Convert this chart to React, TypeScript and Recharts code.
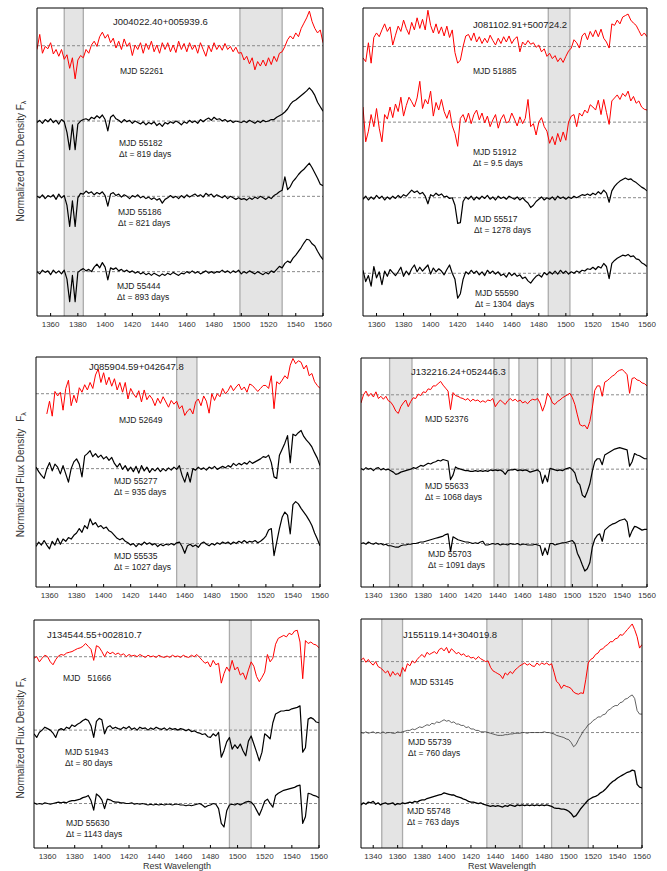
import { Line, LineChart, ReferenceArea, ReferenceLine, XAxis, YAxis } from "recharts";

const FONT = '"Liberation Sans", Arial, Helvetica, sans-serif';
const RED = "#ff0000";
const INK = "#000000";

// rest-frame wavelength grids (Angstrom)
const wave1350 = [
  1350, 1352, 1354, 1356, 1358, 1360, 1362, 1364, 1366, 1368,
  1370, 1372, 1374, 1376, 1378, 1380, 1382, 1384, 1386, 1388,
  1390, 1392, 1394, 1396, 1398, 1400, 1402, 1404, 1406, 1408,
  1410, 1412, 1414, 1416, 1418, 1420, 1422, 1424, 1426, 1428,
  1430, 1432, 1434, 1436, 1438, 1440, 1442, 1444, 1446, 1448,
  1450, 1452, 1454, 1456, 1458, 1460, 1462, 1464, 1466, 1468,
  1470, 1472, 1474, 1476, 1478, 1480, 1482, 1484, 1486, 1488,
  1490, 1492, 1494, 1496, 1498, 1500, 1502, 1504, 1506, 1508,
  1510, 1512, 1514, 1516, 1518, 1520, 1522, 1524, 1526, 1528,
  1530, 1532, 1534, 1536, 1538, 1540, 1542, 1544, 1546, 1548,
  1550, 1552, 1554, 1556, 1558, 1560,
];
const wave1330 = [
  1330, 1332, 1334, 1336, 1338, 1340, 1342, 1344, 1346, 1348,
  ...wave1350,
];

const ticks1350 = [1360, 1380, 1400, 1420, 1440, 1460, 1480, 1500, 1520, 1540, 1560];
const ticks1330 = [1340, ...ticks1350];

// J004022.40+005939.6
const j0040_52261 = [
  0.95, 1.15, 0.90, 0.99, 0.96, 1.04, 0.89, 0.95, 0.86, 0.95,
  0.82, 0.88, 0.70, 0.84, 0.56, 0.81, 0.87, 0.84, 0.95, 0.90,
  1.01, 1.06, 0.99, 1.12, 1.18, 1.10, 1.15, 1.04, 1.10, 0.97,
  1.06, 0.95, 1.09, 0.99, 1.04, 0.87, 1.01, 0.95, 1.04, 0.90,
  1.03, 0.95, 1.06, 0.92, 1.01, 0.90, 1.04, 0.95, 1.04, 0.92,
  1.01, 0.91, 1.06, 0.95, 1.03, 0.92, 1.04, 0.95, 1.01, 0.90,
  1.04, 0.95, 0.86, 1.00, 0.92, 1.04, 0.95, 1.01, 0.94, 1.03,
  0.95, 0.99, 0.92, 0.98, 0.90, 0.91, 0.81, 0.86, 0.76, 0.84,
  0.68, 0.79, 0.73, 0.81, 0.73, 0.84, 0.75, 0.86, 0.79, 0.90,
  0.92, 0.99, 1.08, 1.13, 1.09, 1.17, 1.12, 1.23, 1.30, 1.37,
  1.46, 1.32, 1.23, 1.17, 1.21, 1.04,
];
const j0040_55182 = [
  0.98, 1.01, 0.97, 1.02, 0.99, 1.03, 0.98, 1.01, 0.96, 1.02,
  0.99, 0.85, 0.62, 0.95, 0.62, 0.96, 1.00, 1.02, 1.03, 1.01,
  1.05, 1.03, 1.07, 1.04, 1.08, 1.02, 0.87, 1.05, 1.08, 1.03,
  1.01, 0.98, 1.02, 0.99, 1.01, 0.97, 1.00, 0.98, 0.96, 0.99,
  0.95, 0.98, 0.96, 0.99, 0.94, 0.97, 0.93, 0.98, 0.96, 0.99,
  0.97, 1.00, 0.98, 0.95, 0.99, 0.97, 1.01, 0.98, 1.00, 0.97,
  1.02, 0.99, 1.02, 1.04, 1.01, 1.05, 1.02, 1.03, 1.00, 1.02,
  0.99, 1.01, 0.98, 1.00, 0.99, 0.98, 1.00, 0.98, 1.01, 0.99,
  0.97, 1.00, 0.98, 1.01, 0.99, 1.00, 1.02, 1.02, 1.05, 1.07,
  1.09, 1.12, 1.16, 1.22, 1.26, 1.28, 1.31, 1.34, 1.37, 1.40,
  1.44, 1.40, 1.34, 1.25, 1.19, 1.13,
];
const j0040_55186 = [
  1.00, 0.98, 1.02, 0.97, 1.01, 0.99, 1.02, 0.96, 1.03, 0.98,
  1.01, 0.88, 0.60, 0.94, 0.60, 0.98, 1.04, 1.03, 1.07, 1.04,
  1.06, 1.02, 1.05, 1.03, 1.06, 1.01, 0.87, 1.03, 1.05, 1.01,
  1.03, 0.99, 1.02, 1.00, 0.97, 1.01, 0.99, 1.02, 0.98, 1.00,
  0.97, 0.99, 0.96, 0.98, 0.95, 0.97, 0.91, 0.96, 0.98, 1.01,
  0.98, 1.00, 0.97, 1.01, 0.98, 1.02, 0.99, 1.01, 1.03, 1.00,
  1.02, 0.99, 1.04, 1.01, 1.03, 0.99, 1.02, 1.00, 0.98, 1.01,
  0.97, 1.00, 0.98, 0.96, 0.98, 0.96, 0.97, 0.95, 0.98, 0.96,
  0.99, 0.97, 1.00, 0.98, 0.96, 0.99, 0.97, 1.01, 1.03, 1.06,
  1.08, 1.26, 1.09, 1.13, 1.20, 1.24, 1.29, 1.33, 1.36, 1.40,
  1.44, 1.38, 1.31, 1.24, 1.16, 1.14,
];
const j0040_55444 = [
  1.00, 0.97, 1.02, 0.99, 1.01, 0.96, 1.02, 0.98, 1.01, 0.97,
  1.02, 0.90, 0.60, 0.95, 0.60, 0.99, 1.02, 1.04, 1.01, 1.03,
  1.00, 1.06, 1.10, 1.05, 1.12, 1.06, 0.89, 1.05, 1.03, 1.05,
  1.01, 1.03, 1.00, 1.02, 0.99, 1.01, 0.98, 1.00, 0.97, 0.99,
  0.96, 0.98, 0.95, 0.98, 0.96, 0.94, 0.97, 0.95, 0.98, 0.96,
  0.99, 0.97, 0.95, 0.98, 0.97, 1.00, 0.98, 1.01, 0.98, 1.00,
  0.97, 0.99, 1.01, 0.98, 1.00, 0.98, 1.00, 0.99, 1.02, 0.99,
  1.01, 0.98, 1.01, 0.99, 1.02, 0.97, 1.00, 0.98, 1.01, 0.99,
  0.97, 1.00, 0.98, 0.96, 0.99, 0.97, 1.01, 0.99, 1.03, 1.07,
  1.05, 1.11, 1.14, 1.12, 1.18, 1.22, 1.27, 1.32, 1.38, 1.43,
  1.42, 1.37, 1.34, 1.27, 1.21, 1.16,
];
const j0040Bands = [[1370, 1384], [1499, 1530]];

// J081102.91+500724.2
const j0811_51885 = [
  0.85, 0.80, 1.05, 0.78, 1.12, 1.18, 1.13, 1.22, 1.30, 1.20,
  1.26, 1.02, 1.15, 1.27, 1.20, 1.35, 1.24, 1.16, 1.32, 1.22,
  1.38, 1.24, 1.36, 1.22, 1.48, 1.28, 1.18, 1.30, 1.17, 1.26,
  1.14, 1.27, 1.12, 1.22, 0.92, 0.78, 0.82, 1.00, 1.14, 1.16,
  1.08, 1.18, 1.06, 1.13, 1.04, 1.11, 1.05, 1.15, 1.08, 1.02,
  1.11, 1.04, 1.13, 1.06, 1.14, 1.04, 1.10, 1.13, 0.93, 1.06,
  1.02, 1.08, 1.03, 1.05, 0.99, 1.02, 0.93, 0.97, 0.87, 0.91,
  0.84, 0.88, 0.80, 0.85, 0.79, 0.87, 0.94, 0.98, 1.09, 1.05,
  0.98, 1.14, 1.18, 1.09, 1.20, 1.13, 1.22, 1.13, 1.23, 1.11,
  1.06, 0.98, 1.30, 1.28, 1.35, 1.30, 1.39, 1.41, 1.43, 1.35,
  1.31, 1.28, 1.21, 1.14, 1.18, 1.13,
];
const j0811_51912 = [
  1.20, 0.74, 0.88, 1.10, 0.94, 1.18, 0.92, 0.74, 1.10, 1.04,
  1.20, 1.06, 1.24, 1.14, 1.33, 1.08, 1.22, 1.33, 1.27, 1.20,
  1.32, 1.54, 1.18, 1.30, 1.24, 1.41, 1.08, 1.26, 1.16, 1.30,
  1.14, 1.05, 1.16, 0.95, 0.85, 0.68, 1.05, 1.10, 1.00, 1.12,
  0.98, 1.10, 1.16, 1.03, 1.12, 0.99, 1.08, 0.94, 1.03, 1.10,
  0.92, 1.04, 1.10, 0.99, 1.01, 1.12, 1.04, 0.95, 1.07, 0.98,
  1.05, 1.30, 0.94, 0.98, 0.83, 1.00, 1.06, 0.94, 0.88, 0.72,
  0.81, 0.70, 0.85, 0.74, 0.87, 0.76, 1.00, 1.08, 1.10, 0.94,
  1.12, 1.08, 1.16, 1.12, 1.23, 1.20, 1.16, 1.29, 1.10, 1.30,
  1.13, 0.97, 1.28, 1.32, 1.36, 1.30, 1.38, 1.34, 1.41, 1.28,
  1.34, 1.25, 1.28, 1.20, 1.17, 1.16,
];
const j0811_55517 = [
  0.98, 1.02, 0.97, 1.01, 0.98, 1.03, 0.99, 1.02, 0.97, 1.01,
  0.98, 1.02, 0.99, 1.03, 1.00, 1.04, 1.02, 1.06, 1.10, 1.07,
  1.09, 1.05, 1.07, 1.02, 0.92, 1.04, 1.02, 1.06, 1.03, 1.05,
  1.01, 1.02, 0.99, 1.00, 0.90, 0.66, 0.67, 0.95, 1.01, 0.98,
  1.02, 0.97, 1.01, 0.98, 1.02, 0.99, 1.03, 0.98, 1.01, 0.97,
  1.02, 0.99, 1.01, 0.98, 1.02, 1.00, 0.98, 1.01, 0.97, 1.00,
  0.96, 0.93, 0.87, 0.90, 0.95, 0.98, 1.01, 0.97, 1.00, 0.98,
  1.01, 0.97, 1.02, 0.99, 1.01, 0.98, 1.01, 0.99, 1.02, 1.00,
  1.02, 1.04, 1.03, 1.05, 1.03, 1.06, 1.04, 1.08, 1.05, 1.10,
  1.06, 0.94, 1.09, 1.15, 1.19, 1.22, 1.24, 1.26, 1.24, 1.25,
  1.22, 1.20, 1.17, 1.14, 1.12, 1.09,
];
const j0811_55590 = [
  1.04, 0.89, 0.97, 0.83, 1.09, 0.94, 1.02, 0.85, 1.03, 0.96,
  1.05, 1.01, 0.97, 1.02, 1.08, 0.96, 1.03, 0.98, 1.06, 1.11,
  1.02, 1.08, 1.03, 1.07, 1.11, 0.99, 1.07, 1.02, 1.06, 1.03,
  0.98, 1.05, 1.11, 1.00, 0.92, 0.67, 0.73, 0.92, 1.02, 0.99,
  1.04, 1.00, 1.03, 0.98, 1.02, 0.97, 1.04, 1.00, 1.03, 0.99,
  1.02, 0.97, 0.99, 0.95, 1.01, 0.97, 1.00, 0.96, 0.98, 0.93,
  0.95, 0.90, 0.87, 0.92, 0.96, 0.98, 0.95, 1.01, 0.98, 1.02,
  0.99, 1.03, 0.99, 1.04, 1.00, 1.03, 0.99, 1.02, 1.00, 1.03,
  1.01, 1.04, 1.03, 1.06, 1.05, 1.08, 1.05, 1.09, 1.07, 1.13,
  1.09, 0.93, 1.13, 1.17, 1.20, 1.22, 1.24, 1.23, 1.25, 1.22,
  1.23, 1.19, 1.18, 1.14, 1.12, 1.09,
];
const j0811Bands = [[1487, 1503]];

// J085904.59+042647.8
const j0859_52649 = [
  null, null, null, null, 0.73, 0.90, 0.70, 1.03, 0.97, 1.02,
  0.78, 1.07, 1.18, 0.84, 0.98, 0.88, 1.08, 1.02, 1.12, 1.05,
  1.15, 1.07, 1.25, 1.33, 1.15, 1.28, 1.12, 1.22, 1.10, 1.20,
  1.05, 1.15, 1.02, 1.15, 0.93, 1.07, 1.00, 0.95, 1.04, 0.89,
  1.05, 0.92, 0.98, 0.93, 0.84, 0.94, 0.87, 0.96, 0.89, 0.82,
  0.91, 0.86, 0.90, 0.80, 0.84, 0.71, 0.77, 0.80, 0.73, 0.89,
  0.93, 0.84, 0.97, 0.90, 0.74, 1.00, 0.91, 1.00, 0.96, 1.07,
  1.00, 1.04, 1.11, 1.04, 1.09, 1.13, 1.05, 1.09, 1.02, 1.13,
  1.11, 1.07, 1.03, 1.07, 1.11, 1.11, 1.07, 1.24, 0.80, 1.16,
  1.13, 1.18, 1.24, 1.20, 1.38, 1.47, 1.40, 1.44, 1.42, 1.33,
  1.38, 1.24, 1.27, 1.16, 1.11, 1.07,
];
const j0859_55277 = [
  1.02, 0.96, 0.91, 0.87, 1.00, 1.08, 0.97, 1.06, 1.02, 0.93,
  1.04, 0.93, 0.82, 1.00, 1.09, 1.13, 1.06, 0.89, 1.17, 1.20,
  1.24, 1.16, 1.20, 1.15, 1.18, 1.13, 1.16, 1.11, 1.15, 1.07,
  1.02, 1.07, 0.99, 1.04, 0.97, 1.02, 0.96, 1.03, 0.94, 1.04,
  0.97, 1.02, 0.95, 1.00, 0.97, 1.01, 0.96, 1.00, 0.97, 1.01,
  0.98, 1.02, 0.99, 1.04, 0.91, 0.82, 0.95, 0.82, 1.00, 0.98,
  1.02, 0.99, 1.01, 0.98, 1.02, 1.00, 1.03, 0.99, 1.01, 1.03,
  1.01, 1.04, 1.02, 1.07, 1.04, 1.07, 1.05, 1.08, 1.06, 1.10,
  1.07, 1.09, 1.11, 1.13, 1.16, 1.15, 1.18, 1.08, 0.89, 0.87,
  1.18, 1.26, 1.34, 1.44, 1.08, 1.46, 1.44, 1.48, 1.51, 1.43,
  1.38, 1.34, 1.29, 1.21, 1.14, 1.04,
];
const j0859_55535 = [
  0.96, 1.02, 0.98, 1.04, 0.98, 0.93, 1.03, 0.98, 1.07, 0.99,
  1.06, 1.03, 1.08, 1.06, 1.11, 1.14, 1.20, 1.15, 1.24, 1.20,
  1.33, 1.25, 1.28, 1.22, 1.24, 1.20, 1.22, 1.17, 1.15, 1.11,
  1.07, 1.05, 1.07, 1.03, 1.01, 0.98, 1.00, 0.96, 1.00, 0.98,
  1.02, 0.99, 1.01, 0.98, 1.00, 0.96, 0.99, 0.97, 0.99, 0.98,
  1.00, 0.98, 1.01, 1.02, 0.96, 0.87, 0.97, 0.99, 0.96, 0.98,
  0.95, 1.00, 1.02, 0.99, 0.97, 1.00, 0.98, 1.01, 0.99, 1.02,
  1.00, 1.02, 0.99, 1.02, 1.00, 1.03, 1.01, 1.04, 1.01, 1.03,
  1.02, 1.04, 1.01, 1.03, 1.06, 1.10, 1.18, 1.20, 0.84, 1.02,
  1.20, 1.35, 1.42, 1.38, 1.13, 1.52, 1.56, 1.53, 1.47, 1.42,
  1.37, 1.31, 1.24, 1.14, 1.06, 0.97,
];
const j0859Bands = [[1454, 1469]];

// J132216.24+052446.3
const j1322_52376 = [
  0.89, 1.00, 1.05, 0.98, 1.02, 0.97, 1.04, 0.95, 0.98, 0.94,
  0.98, 0.92, 0.90, 0.85, 0.78, 0.75, 0.84, 0.89, 0.93, 0.84,
  0.91, 0.96, 0.95, 1.01, 0.99, 1.04, 1.03, 1.08, 1.07, 1.12,
  1.12, 1.15, 1.18, 1.13, 1.09, 1.05, 0.80, 1.03, 0.99, 0.98,
  0.96, 0.95, 0.93, 0.95, 0.91, 0.94, 0.92, 0.93, 0.90, 0.92,
  0.90, 0.93, 0.92, 0.95, 0.84, 0.89, 0.93, 0.90, 0.87, 0.92,
  0.95, 0.92, 0.94, 0.91, 0.93, 0.89, 0.91, 0.88, 0.92, 0.94,
  0.93, 0.95, 0.89, 0.78, 0.87, 1.02, 0.97, 0.89, 0.87, 0.91,
  0.93, 0.96, 0.98, 1.00, 1.02, 0.96, 0.87, 0.73, 0.60, 0.58,
  0.59, 0.54, 0.64, 0.82, 1.06, 1.12, 1.12, 0.98, 1.17, 1.19,
  1.22, 1.25, 1.27, 1.31, 1.33, 1.34, 1.31, 1.27, 1.02, 1.22,
  1.23, 1.20, 1.19, 1.16, 1.15, 1.12,
];
const j1322_55633 = [
  1.01, 0.99, 1.02, 1.00, 1.01, 0.98, 1.01, 1.02, 0.99, 1.01,
  0.99, 1.00, 0.98, 0.96, 0.93, 0.94, 0.96, 0.97, 0.98, 0.99,
  1.00, 1.02, 1.01, 1.03, 1.05, 1.04, 1.06, 1.08, 1.07, 1.09,
  1.10, 1.12, 1.11, 1.13, 1.12, 1.11, 0.86, 0.92, 1.03, 1.01,
  1.00, 0.99, 0.98, 0.98, 0.97, 0.97, 0.98, 0.97, 0.98, 0.97,
  0.98, 0.97, 0.99, 0.98, 0.99, 0.98, 0.99, 0.97, 0.93, 0.98,
  0.99, 0.99, 1.00, 0.98, 0.99, 0.98, 0.99, 0.98, 0.96, 0.97,
  0.98, 0.99, 0.96, 0.81, 0.92, 0.83, 1.01, 1.00, 0.99, 0.98,
  0.99, 0.98, 1.00, 1.01, 1.02, 0.99, 0.95, 0.83, 0.79, 0.65,
  0.62, 0.70, 0.80, 0.97, 1.10, 1.14, 1.14, 1.06, 1.19, 1.21,
  1.23, 1.25, 1.27, 1.28, 1.29, 1.28, 1.27, 1.26, 1.04, 1.10,
  1.21, 1.19, 1.18, 1.16, 1.14, 1.14,
];
const j1322_55703 = [
  1.00, 1.01, 0.99, 1.02, 1.00, 0.99, 1.01, 0.99, 1.00, 0.98,
  0.99, 0.97, 0.97, 0.96, 0.95, 0.95, 0.97, 0.98, 0.98, 0.99,
  0.99, 1.00, 1.00, 1.01, 1.02, 1.02, 1.03, 1.04, 1.05, 1.06,
  1.07, 1.08, 1.09, 1.10, 1.12, 1.13, 0.89, 1.09, 1.07, 1.05,
  1.04, 1.03, 1.02, 1.02, 1.01, 1.00, 1.01, 1.00, 1.02, 1.03,
  0.98, 0.98, 0.99, 1.00, 0.99, 1.00, 0.98, 0.99, 0.99, 0.98,
  1.00, 0.99, 0.99, 1.00, 0.98, 0.99, 0.99, 0.98, 0.98, 0.98,
  0.99, 0.98, 0.97, 0.84, 0.94, 0.85, 1.00, 1.00, 0.98, 0.99,
  1.00, 1.01, 1.01, 1.02, 1.03, 1.04, 1.00, 0.87, 0.80, 0.71,
  0.63, 0.66, 0.74, 0.95, 1.06, 1.11, 1.13, 1.03, 1.18, 1.21,
  1.24, 1.26, 1.27, 1.29, 1.31, 1.32, 1.33, 1.29, 1.09, 1.17,
  1.23, 1.22, 1.20, 1.18, 1.19, 1.19,
];
const j1322Bands = [[1353, 1371], [1437, 1449], [1457, 1472], [1483, 1494], [1499, 1516]];

// J134544.55+002810.7
const j1345_51666 = [
  0.98, 1.00, 0.93, 0.98, 1.02, 1.00, 0.93, 0.89, 0.96, 1.01,
  1.03, 1.02, 1.05, 1.06, 1.07, 1.09, 1.11, 1.12, 1.14, 1.18,
  1.14, 1.10, 0.95, 1.15, 1.13, 1.07, 1.00, 1.07, 1.04, 1.06,
  1.03, 1.05, 1.02, 1.04, 1.00, 1.03, 1.01, 1.02, 1.00, 1.03,
  1.01, 0.99, 1.02, 1.00, 1.01, 0.99, 1.02, 1.00, 0.99, 1.01,
  0.99, 1.02, 1.00, 1.01, 0.99, 1.02, 1.00, 0.99, 1.02, 1.00,
  1.03, 0.99, 0.95, 0.91, 0.93, 0.86, 0.95, 0.89, 0.91, 0.64,
  0.77, 0.86, 0.80, 0.95, 0.82, 0.86, 0.75, 0.78, 0.69, 0.82,
  0.93, 0.87, 0.73, 0.66, 0.72, 0.79, 1.03, 0.93, 0.98, 1.17,
  1.25, 1.27, 1.29, 1.27, 1.32, 1.30, 1.35, 1.36, 1.20, 0.70,
  1.22, 1.18, 1.20, 1.17, 1.16, 1.12,
];
const j1345_51943 = [
  0.95, 0.90, 0.97, 1.00, 1.04, 1.02, 1.00, 0.96, 0.90, 1.00,
  1.02, 1.00, 1.04, 1.02, 1.07, 1.05, 1.08, 1.10, 1.13, 1.15,
  1.13, 1.06, 0.90, 1.12, 1.16, 1.14, 0.95, 1.04, 1.06, 1.02,
  1.04, 1.02, 1.01, 1.04, 1.02, 1.05, 1.01, 1.03, 1.00, 1.04,
  1.02, 1.03, 1.00, 1.03, 1.01, 1.04, 1.02, 1.01, 1.03, 1.00,
  1.03, 1.01, 1.02, 1.00, 1.02, 1.01, 0.99, 1.01, 0.98, 0.99,
  0.97, 0.96, 0.94, 0.95, 0.91, 0.90, 0.95, 0.92, 0.97, 0.63,
  0.72, 0.84, 0.90, 0.74, 0.80, 0.75, 0.81, 0.72, 0.65, 0.85,
  0.92, 0.81, 0.70, 0.58, 0.70, 0.95, 0.92, 0.88, 1.10, 1.22,
  1.24, 1.26, 1.26, 1.27, 1.27, 1.29, 1.30, 1.31, 1.33, 0.70,
  0.76, 1.15, 1.17, 1.15, 1.11, 1.10,
];
const j1345_55630 = [
  1.01, 0.99, 1.00, 0.99, 1.01, 1.00, 0.99, 1.00, 1.01, 1.02,
  1.01, 1.02, 1.01, 1.03, 1.04, 1.04, 1.05, 1.06, 1.08, 1.09,
  1.11, 1.04, 0.91, 1.13, 1.10, 1.05, 0.93, 1.06, 1.05, 1.03,
  1.02, 1.02, 1.01, 1.01, 1.00, 1.00, 1.01, 0.99, 1.00, 0.99,
  1.00, 0.99, 0.98, 0.99, 0.98, 0.99, 0.98, 0.99, 0.98, 0.99,
  0.99, 0.98, 0.99, 0.99, 0.98, 0.98, 0.97, 0.98, 0.97, 0.98,
  0.99, 1.00, 0.98, 0.95, 0.97, 0.98, 1.00, 0.99, 0.93, 0.73,
  0.68, 0.90, 0.98, 0.99, 0.98, 1.00, 0.98, 1.00, 1.02, 1.03,
  1.02, 0.98, 0.91, 0.84, 0.93, 1.03, 1.06, 1.00, 0.95, 1.11,
  1.14, 1.16, 1.18, 1.19, 1.20, 1.21, 1.22, 1.24, 1.25, 0.73,
  0.82, 1.14, 1.13, 1.11, 1.10, 1.08,
];
const j1345Bands = [[1494, 1510]];

// J155119.14+304019.8
const j1551_53145 = [
  1.02, 1.05, 0.99, 1.03, 0.98, 0.95, 1.00, 0.93, 0.91, 0.88,
  0.84, 0.87, 0.79, 0.86, 0.81, 0.84, 0.79, 0.92, 0.86, 0.97,
  0.94, 1.01, 0.98, 1.03, 1.07, 1.10, 1.06, 1.13, 1.10, 1.12,
  1.14, 1.11, 1.17, 1.19, 1.15, 1.20, 1.12, 1.18, 1.15, 1.11,
  1.13, 1.09, 1.11, 1.07, 1.08, 1.05, 1.06, 1.03, 1.07, 1.04,
  1.02, 1.00, 1.01, 0.92, 0.87, 0.85, 0.83, 0.81, 0.76, 0.84,
  0.81, 0.86, 0.83, 0.88, 0.91, 0.94, 0.96, 0.98, 0.95, 0.97,
  0.94, 0.93, 0.98, 0.95, 0.98, 0.96, 0.98, 0.95, 0.97, 0.85,
  0.72, 0.69, 0.62, 0.67, 0.65, 0.64, 0.62, 0.57, 0.55, 0.54,
  0.56, 0.55, 0.75, 0.98, 1.03, 1.05, 1.10, 1.12, 1.17, 1.18,
  1.22, 1.24, 1.28, 1.28, 1.32, 1.33, 1.38, 1.37, 1.41, 1.45,
  1.49, 1.53, 1.45, 1.35, 1.19, 1.24,
];
const j1551_55739 = [
  1.00, 0.99, 1.01, 0.99, 1.00, 1.01, 0.99, 1.00, 0.99, 1.01,
  0.99, 1.00, 1.00, 0.99, 0.99, 1.01, 1.00, 1.01, 1.02, 1.03,
  1.03, 1.05, 1.04, 1.06, 1.08, 1.07, 1.09, 1.11, 1.10, 1.13,
  1.12, 1.15, 1.14, 1.16, 1.18, 1.16, 1.17, 1.14, 1.15, 1.12,
  1.12, 1.10, 1.10, 1.07, 1.08, 1.05, 1.05, 1.03, 1.03, 1.01,
  1.01, 1.01, 1.00, 0.99, 0.98, 0.97, 0.96, 0.96, 0.96, 0.97,
  0.97, 0.98, 0.98, 0.99, 0.99, 0.99, 1.00, 1.00, 0.99, 1.00,
  1.00, 1.00, 1.00, 1.00, 1.00, 1.01, 1.00, 1.00, 0.99, 0.98,
  0.96, 0.95, 0.94, 0.93, 0.91, 0.90, 0.86, 0.80, 0.83, 0.90,
  0.96, 1.02, 1.06, 1.11, 1.13, 1.17, 1.19, 1.22, 1.22, 1.25,
  1.26, 1.31, 1.33, 1.36, 1.38, 1.38, 1.42, 1.43, 1.47, 1.48,
  1.51, 1.53, 1.48, 1.31, 1.26, 1.26,
];
const j1551_55748 = [
  0.98, 1.01, 0.99, 1.02, 1.01, 1.03, 0.99, 1.01, 0.98, 1.00,
  1.01, 0.99, 1.00, 1.01, 0.98, 1.00, 0.99, 1.01, 1.00, 1.01,
  1.02, 1.01, 1.03, 1.02, 1.04, 1.05, 1.05, 1.07, 1.08, 1.09,
  1.10, 1.11, 1.12, 1.13, 1.15, 1.14, 1.13, 1.12, 1.12, 1.10,
  1.09, 1.08, 1.06, 1.05, 1.03, 1.02, 1.02, 1.01, 1.00, 1.01,
  0.99, 0.98, 0.97, 0.96, 0.97, 0.96, 0.97, 0.96, 0.95, 0.97,
  0.96, 0.98, 0.97, 0.96, 0.98, 0.97, 0.98, 0.97, 0.98, 0.97,
  0.98, 0.97, 0.98, 0.97, 0.98, 0.97, 0.98, 0.97, 0.96, 0.94,
  0.93, 0.93, 0.92, 0.92, 0.91, 0.89, 0.86, 0.81, 0.83, 0.88,
  0.93, 0.97, 1.01, 1.05, 1.07, 1.09, 1.10, 1.12, 1.15, 1.17,
  1.20, 1.24, 1.28, 1.31, 1.33, 1.36, 1.38, 1.40, 1.42, 1.44,
  1.45, 1.47, 1.46, 1.27, 1.23, 1.22,
];
const j1551Bands = [[1347, 1364], [1433, 1462], [1486, 1516]];

type Spectrum = {
  flux: (number | null)[];
  color: string;
  width: number;
  label: string[];
  at: [number, number];
};

type Panel = {
  name: string;
  title: [number, number];
  frame: { left: number; top: number; width: number; height: number };
  wave: number[];
  xDomain: [number, number];
  xTicks: number[];
  yDomain: [number, number];
  bands: number[][];
  spectra: Spectrum[];
};

const panels: Panel[] = [
  {
    name: "J004022.40+005939.6",
    title: [113, 21],
    frame: { left: 37, top: 8, width: 286, height: 308 },
    wave: wave1350,
    xDomain: [1350, 1560],
    xTicks: ticks1350,
    yDomain: [0.411, 4.501],
    bands: j0040Bands,
    spectra: [
      { flux: j0040_52261, color: RED, width: 1, label: ["MJD 52261"], at: [120, 71] },
      { flux: j0040_55182, color: INK, width: 1.2, label: ["MJD 55182", "\u0394t = 819 days"], at: [119, 143] },
      { flux: j0040_55186, color: INK, width: 1.2, label: ["MJD 55186", "\u0394t = 821 days"], at: [118, 212] },
      { flux: j0040_55444, color: INK, width: 1.2, label: ["MJD 55444", "\u0394t = 893 days"], at: [117, 286] },
    ],
  },
  {
    name: "J081102.91+500724.2",
    title: [473, 24],
    frame: { left: 363, top: 8, width: 284, height: 308 },
    wave: wave1350,
    xDomain: [1350, 1560],
    xTicks: ticks1350,
    yDomain: [0.435, 4.51],
    bands: j0811Bands,
    spectra: [
      { flux: j0811_51885, color: RED, width: 1, label: ["MJD 51885"], at: [473, 71] },
      { flux: j0811_51912, color: RED, width: 1, label: ["MJD 51912", "\u0394t = 9.5 days"], at: [473, 152] },
      { flux: j0811_55517, color: INK, width: 1.2, label: ["MJD 55517", "\u0394t = 1278 days"], at: [474, 219] },
      { flux: j0811_55590, color: INK, width: 1.2, label: ["MJD 55590", "\u0394t = 1304  days"], at: [475, 293] },
    ],
  },
  {
    name: "J085904.59+042647.8",
    title: [89, 366],
    frame: { left: 36, top: 357, width: 284, height: 230 },
    wave: wave1350,
    xDomain: [1350, 1560],
    xTicks: ticks1350,
    yDomain: [0.42, 3.49],
    bands: j0859Bands,
    spectra: [
      { flux: j0859_52649, color: RED, width: 1, label: ["MJD 52649"], at: [119, 420] },
      { flux: j0859_55277, color: INK, width: 1.2, label: ["MJD 55277", "\u0394t = 935 days"], at: [114, 481] },
      { flux: j0859_55535, color: INK, width: 1.2, label: ["MJD 55535", "\u0394t = 1027 days"], at: [114, 556] },
    ],
  },
  {
    name: "J132216.24+052446.3",
    title: [411, 371],
    frame: { left: 361, top: 358, width: 286, height: 229 },
    wave: wave1330,
    xDomain: [1330, 1560],
    xTicks: ticks1330,
    yDomain: [0.415, 3.495],
    bands: j1322Bands,
    spectra: [
      { flux: j1322_52376, color: RED, width: 1, label: ["MJD 52376"], at: [425, 419] },
      { flux: j1322_55633, color: INK, width: 1.2, label: ["MJD 55633", "\u0394t = 1068 days"], at: [425, 486] },
      { flux: j1322_55703, color: INK, width: 1.2, label: ["MJD 55703", "\u0394t = 1091 days"], at: [428, 554] },
    ],
  },
  {
    name: "J134544.55+002810.7",
    title: [47, 634],
    frame: { left: 34, top: 620, width: 285, height: 228 },
    wave: wave1350,
    xDomain: [1350, 1560],
    xTicks: ticks1350,
    yDomain: [0.394, 3.5],
    bands: j1345Bands,
    spectra: [
      { flux: j1345_51666, color: RED, width: 1, label: ["MJD   51666"], at: [63, 678] },
      { flux: j1345_51943, color: INK, width: 1.2, label: ["MJD 51943", "\u0394t = 80 days"], at: [65, 752] },
      { flux: j1345_55630, color: INK, width: 1.2, label: ["MJD 55630", "\u0394t = 1143 days"], at: [66, 823] },
    ],
  },
  {
    name: "J155119.14+304019.8",
    title: [403, 634],
    frame: { left: 361, top: 619, width: 281, height: 229 },
    wave: wave1330,
    xDomain: [1330, 1560],
    xTicks: ticks1330,
    yDomain: [0.373, 3.6],
    bands: j1551Bands,
    spectra: [
      { flux: j1551_53145, color: RED, width: 1, label: ["MJD 53145"], at: [410, 682] },
      { flux: j1551_55739, color: "#3a3a3a", width: 0.8, label: ["MJD 55739", "\u0394t = 760 days"], at: [408, 742] },
      { flux: j1551_55748, color: INK, width: 1.3, label: ["MJD 55748", "\u0394t = 763 days"], at: [407, 811] },
    ],
  },
];

const PAD_L = 14;
const PAD_R = 14;
const PAD_T = 4;
const PAD_B = 20;

function SpectraPanel({ panel }: { panel: Panel }) {
  const n = panel.spectra.length;
  // each spectrum sits one unit above the next; continuum (flux = 1) falls on an integer level
  const rows = panel.wave.map((w, i) => {
    const row: Record<string, number | null> = { w };
    panel.spectra.forEach((s, k) => {
      const f = s.flux[i];
      row[`s${k}`] = f == null ? null : f + (n - 1 - k);
    });
    return row;
  });
  const levels = panel.spectra.map((_, k) => n - k);
  const yTicks = levels.map((v) => v - 0.5).reverse();
  const { left, top, width, height } = panel.frame;

  return (
    <div style={{ position: "absolute", left: left - PAD_L, top: top - PAD_T }}>
      <LineChart
        width={width + PAD_L + PAD_R}
        height={height + PAD_T + PAD_B}
        data={rows}
        margin={{ top: 0, right: 0, bottom: 0, left: 0 }}
      >
        {panel.bands.map(([a, b]) => (
          <ReferenceArea key={`band-${a}`} x1={a} x2={b} fill="#e4e4e4" fillOpacity={1} stroke="none" />
        ))}
        {panel.bands.flat().map((x) => (
          <ReferenceLine key={`edge-${x}`} x={x} stroke="#ababab" strokeWidth={1.3} />
        ))}
        {levels.map((y) => (
          <ReferenceLine key={`cont-${y}`} y={y} stroke="#8a8a8a" strokeDasharray="3 2" strokeWidth={1} />
        ))}
        <XAxis
          dataKey="w"
          type="number"
          domain={panel.xDomain}
          ticks={panel.xTicks}
          interval={0}
          allowDataOverflow
          height={PAD_B}
          stroke={INK}
          tickSize={-3}
          tickMargin={8}
          tick={{ fontSize: 8, fill: "#333", fontFamily: FONT }}
        />
        <XAxis
          xAxisId="top"
          orientation="top"
          dataKey="w"
          type="number"
          domain={panel.xDomain}
          ticks={panel.xTicks}
          interval={0}
          allowDataOverflow
          height={PAD_T}
          stroke={INK}
          tickSize={-3}
          tick={false}
        />
        <YAxis
          type="number"
          domain={panel.yDomain}
          ticks={yTicks}
          interval={0}
          allowDataOverflow
          width={PAD_L}
          stroke={INK}
          tickSize={-3}
          tick={false}
        />
        <YAxis
          yAxisId="right"
          orientation="right"
          type="number"
          domain={panel.yDomain}
          ticks={yTicks}
          interval={0}
          allowDataOverflow
          width={PAD_R}
          stroke={INK}
          tickSize={-3}
          tick={false}
        />
        {panel.spectra.map((s, k) => (
          <Line
            key={`s${k}`}
            type="linear"
            dataKey={`s${k}`}
            stroke={s.color}
            strokeWidth={s.width}
            strokeLinejoin="round"
            dot={false}
            activeDot={false}
            connectNulls={false}
            isAnimationActive={false}
          />
        ))}
      </LineChart>
    </div>
  );
}

function YLabel({ x, y, split }: { x: number; y: number; split?: number }) {
  if (split) {
    return (
      <g fontSize={10} fill="#333">
        <text x={x} y={y} transform={`rotate(-90 ${x} ${y})`} textAnchor="middle" dominantBaseline="central">
          Normalized Flux Density
        </text>
        <text x={x} y={split} transform={`rotate(-90 ${x} ${split})`} textAnchor="middle" dominantBaseline="central">
          F<tspan dy={3} fontSize={7}>λ</tspan>
        </text>
      </g>
    );
  }
  return (
    <text
      x={x}
      y={y}
      transform={`rotate(-90 ${x} ${y})`}
      textAnchor="middle"
      dominantBaseline="central"
      fontSize={10}
      fill="#333"
    >
      Normalized Flux Density F<tspan dy={3} fontSize={7}>λ</tspan>
    </text>
  );
}

export default function App() {
  return (
    <div
      style={{
        position: "absolute",
        left: 0,
        top: 0,
        width: 667,
        height: 871,
        background: "#fff",
        overflow: "hidden",
        fontFamily: FONT,
      }}
    >
      {panels.map((p) => (
        <SpectraPanel key={p.name} panel={p} />
      ))}
      <svg
        width={667}
        height={871}
        style={{ position: "absolute", left: 0, top: 0, pointerEvents: "none", fontFamily: FONT }}
      >
        {panels.map((p) => (
          <g key={p.name} fill="#222">
            <text x={p.title[0]} y={p.title[1]} fontSize={9.5} dominantBaseline="central">
              {p.name}
            </text>
            {p.spectra.map((s) =>
              s.label.map((line, j) => (
                <text
                  key={line}
                  x={s.at[0]}
                  y={s.at[1] + j * 10.5}
                  fontSize={8.5}
                  dominantBaseline="central"
                  style={{ whiteSpace: "pre" }}
                >
                  {line}
                </text>
              )),
            )}
          </g>
        ))}
        <YLabel x={20} y={161} />
        <YLabel x={20} y={483} split={417} />
        <YLabel x={20} y={738} />
        <text x={177} y={865.5} fontSize={9} fill="#333" textAnchor="middle" dominantBaseline="central">
          Rest Wavelength
        </text>
        <text x={502} y={865.5} fontSize={9} fill="#333" textAnchor="middle" dominantBaseline="central">
          Rest Wavelength
        </text>
      </svg>
    </div>
  );
}
